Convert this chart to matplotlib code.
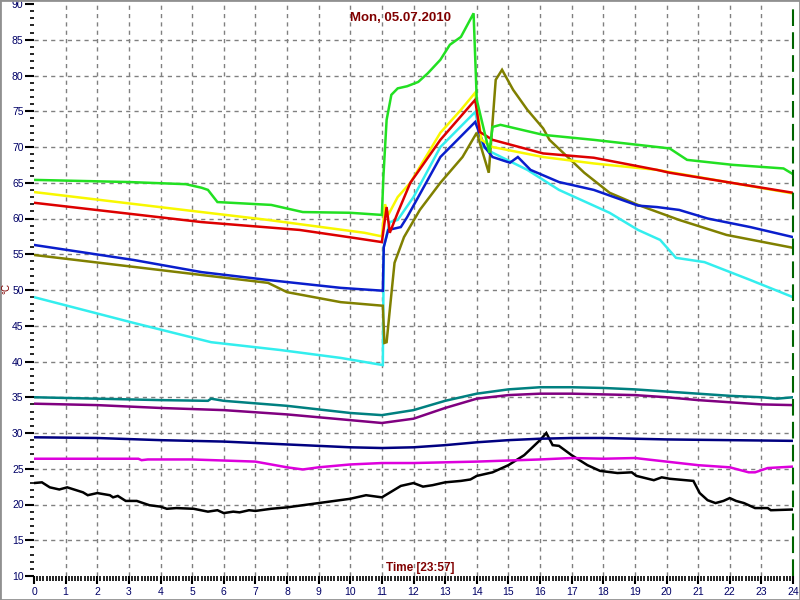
import matplotlib
matplotlib.use("Agg")
import matplotlib.pyplot as plt
from matplotlib.patches import Rectangle
from matplotlib.ticker import MultipleLocator

plt.rcParams["font.family"] = ["Liberation Sans", "DejaVu Sans"]

title = "Mon, 05.07.2010"
xlabel = "Time [23:57]"
ylabel = "°C"
cursor_time = 24

# (hours, values) per sensor
green_t = [0, 3, 4.8, 5.3, 5.5, 5.8, 7.5, 8.5, 10, 11.0, 11.05, 11.15, 11.3, 11.5, 11.8, 12.15, 12.45,
           12.85, 13.15, 13.5, 13.9, 14.0, 14.4, 14.5, 14.75, 16.1, 17.7, 19.7, 20.1, 20.65, 22.1, 23.7, 24]
green_v = [65.4, 65.1, 64.8, 64.3, 64.0, 62.3, 61.9, 60.9, 60.8, 60.5, 66.0, 73.8, 77.3, 78.2, 78.5, 79.1, 80.3,
           82.2, 84.3, 85.4, 88.7, 76.6, 69.2, 72.8, 73.1, 71.7, 71.0, 70.0, 69.8, 68.2, 67.5, 67.0, 66.2]

yellow_t = [0, 5.3, 7.4, 10.45, 11.0, 11.1, 11.2, 11.5, 11.9, 12.85, 13.5, 13.95, 14.15, 14.5, 16.1, 17.7,
            19.7, 24]
yellow_v = [63.7, 60.9, 59.8, 58.0, 57.5, 62.0, 60.5, 63.0, 65.0, 72.0, 75.2, 77.6, 71.0, 70.0, 68.6, 67.7,
            66.8, 63.5]

red_t = [0, 5.3, 8.4, 10.1, 11.0, 11.15, 11.25, 11.5, 11.9, 12.85, 13.95, 14.1, 14.5, 16.1, 17.7, 19.7,
         20.1, 24]
red_v = [62.2, 59.5, 58.4, 57.3, 56.7, 61.6, 58.0, 60.8, 65.0, 71.0, 76.6, 72.1, 71.0, 69.1, 68.5, 66.8,
         66.4, 63.6]

blue_t = [0, 3.15, 5.3, 7.4, 9.7, 11.03, 11.06, 11.2, 11.6, 11.8, 12.1, 12.85, 13.95, 14.25, 14.5, 15.05,
          15.3, 15.7, 16.6, 17.7, 19.1, 19.7, 20.4, 21.3, 22.65, 24]
blue_v = [56.3, 54.2, 52.5, 51.4, 50.3, 49.9, 56.0, 58.4, 58.8, 60.2, 62.6, 68.6, 73.5, 70.0, 68.6, 67.8,
          68.6, 66.8, 65.1, 64.0, 61.8, 61.6, 61.2, 60.0, 58.8, 57.4]

olive_t = [0, 5.3, 7.4, 8.0, 9.7, 11.03, 11.08, 11.15, 11.25, 11.4, 11.7, 12.2, 12.85, 13.55, 14.0, 14.38,
           14.6, 14.8, 15.15, 15.6, 16.1, 16.3, 17.4, 18.2, 19.1, 20.4, 21.9, 24]
olive_v = [54.9, 52.1, 51.0, 49.7, 48.3, 47.8, 42.6, 42.7, 47.2, 53.8, 57.4, 61.2, 65.0, 68.6, 72.0, 66.4,
           79.4, 80.8, 78.0, 75.2, 72.6, 71.0, 66.4, 63.6, 61.9, 59.8, 57.7, 55.9]

cyan_t = [0, 3.15, 5.6, 7.8, 9.7, 11.03, 11.06, 11.25, 11.5, 12.0, 12.85, 13.95, 14.2, 14.5, 15.6, 16.6,
          18.2, 19.1, 19.8, 20.3, 21.2, 22.65, 24]
cyan_v = [49.0, 45.4, 42.7, 41.6, 40.5, 39.5, 56.0, 59.5, 59.8, 63.0, 70.0, 74.9, 70.0, 69.2, 66.8, 64.0,
          60.8, 58.4, 57.0, 54.5, 53.9, 51.4, 49.0]

teal_t = [0, 2, 4, 5.5, 5.6, 6, 8, 10, 11, 12, 13, 14, 15, 16, 17, 18, 19, 20, 21, 22, 23, 23.5, 24]
teal_v = [35.0, 34.8, 34.6, 34.5, 34.8, 34.5, 33.8, 32.8, 32.5, 33.2, 34.5, 35.5, 36.1, 36.4, 36.4, 36.3,
          36.1, 35.8, 35.5, 35.2, 35.0, 34.8, 35.0]

purple_t = [0, 2, 4, 6, 8, 9.5, 11, 12, 13, 14, 15, 16, 17, 18, 19, 20, 21, 22, 23, 24]
purple_v = [34.1, 33.9, 33.5, 33.2, 32.6, 32.0, 31.4, 32.0, 33.5, 34.8, 35.3, 35.5, 35.5, 35.4, 35.3, 35.0,
            34.6, 34.3, 34.0, 33.9]

navy_t = [0, 2, 4, 6, 8, 10, 11, 12, 13, 14, 15, 16, 17, 18, 19, 20, 22, 24]
navy_v = [29.4, 29.3, 29.0, 28.8, 28.4, 28.0, 27.9, 28.0, 28.3, 28.7, 29.0, 29.2, 29.3, 29.3, 29.2, 29.1,
          29.0, 28.9]

magenta_t = [0, 3.3, 3.4, 3.6, 5, 7, 8, 8.5, 9, 10, 11, 12, 14, 16, 17, 18, 19, 20, 21, 22, 22.6, 22.8,
             23.2, 24]
magenta_v = [26.4, 26.4, 26.2, 26.3, 26.3, 26.0, 25.2, 24.9, 25.2, 25.6, 25.8, 25.8, 26.0, 26.3, 26.5, 26.4,
             26.5, 26.0, 25.5, 25.2, 24.5, 24.5, 25.1, 25.3]

black_t = [0, 0.25, 0.5, 0.8, 1.05, 1.55, 1.7, 2.0, 2.4, 2.5, 2.65, 2.9, 3.25, 3.65, 4.0, 4.2, 4.5, 5.05,
           5.5, 5.8, 6.0, 6.3, 6.5, 6.8, 7, 7.5, 8, 8.5, 9, 9.5, 10, 10.5, 11, 11.3, 11.6, 12, 12.3, 12.6,
           13, 13.5, 13.8, 14, 14.5, 15, 15.5, 16, 16.2, 16.4, 16.6, 17, 17.5, 17.9, 18.45, 18.9, 19.05,
           19.6, 19.85, 20.1, 20.85, 21.05, 21.3, 21.55, 21.8, 22.0, 22.2, 22.45, 22.8, 23.2, 23.3, 24]
black_v = [23.0, 23.1, 22.4, 22.1, 22.4, 21.7, 21.3, 21.6, 21.3, 21.0, 21.2, 20.5, 20.5, 19.9, 19.7, 19.4,
           19.5, 19.4, 19.0, 19.2, 18.8, 19.0, 18.9, 19.2, 19.1, 19.4, 19.6, 19.9, 20.2, 20.5, 20.8, 21.3,
           21.0, 21.8, 22.6, 23.0, 22.5, 22.7, 23.1, 23.3, 23.5, 24.0, 24.5, 25.5, 26.9, 29.0, 30.0, 28.3,
           28.2, 26.9, 25.5, 24.7, 24.4, 24.5, 24.0, 23.4, 23.8, 23.6, 23.3, 21.6, 20.6, 20.2, 20.5, 20.9,
           20.5, 20.2, 19.5, 19.5, 19.2, 19.3]

series = [
    (black_t, black_v, "#000000"),
    (magenta_t, magenta_v, "#dd00dd"),
    (navy_t, navy_v, "#000080"),
    (purple_t, purple_v, "#800080"),
    (teal_t, teal_v, "#008080"),
    (cyan_t, cyan_v, "#33eeee"),
    (olive_t, olive_v, "#808000"),
    (blue_t, blue_v, "#0a1ecc"),
    (yellow_t, yellow_v, "#f8f800"),
    (red_t, red_v, "#dd0000"),
    (green_t, green_v, "#22e022"),
]

fig = plt.figure(figsize=(8, 6), dpi=100)
ax = fig.add_axes([34 / 800, 24 / 600, 759 / 800, 572 / 600])
ax.set_xlim(0, 24)
ax.set_ylim(10, 90)

# dashed grid, interior only
for h in range(1, 24):
    ax.axvline(h, color="#808080", linewidth=1, linestyle=(0, (3, 3)), zorder=0)
for v in range(15, 90, 5):
    ax.axhline(v, color="#808080", linewidth=1, linestyle=(0, (3, 3)), zorder=0)

for t, v, c in series:
    ax.plot(t, v, color=c, linewidth=1.8, solid_joinstyle="miter")

ax.axvline(cursor_time, color="#006400", linewidth=1.5, linestyle=(0, (8, 3)), clip_on=False)

for s in ax.spines.values():
    s.set_visible(False)

ax.xaxis.set_major_locator(MultipleLocator(1))
ax.xaxis.set_minor_locator(MultipleLocator(0.1))
ax.yaxis.set_major_locator(MultipleLocator(5))
ax.yaxis.set_minor_locator(MultipleLocator(1))
# tick lengths are in points (1 pt = 1.39 px here)
ax.tick_params(axis="y", which="major", direction="out", length=6.5, width=1.5, color="black",
               labelsize=7.5, labelcolor="#000066", pad=1)
ax.tick_params(axis="y", which="minor", direction="out", length=3, width=1.2, color="black")
ax.tick_params(axis="x", which="major", direction="out", length=6, width=1.5, color="black",
               labelsize=7.5, labelcolor="#000066", pad=2)
ax.tick_params(axis="x", which="minor", direction="out", length=3.5, width=1.2, color="black")

fig.text(400 / 800, 1 - 18 / 600, title, ha="center", va="center",
         fontsize=9.5, fontweight="bold", color="#800000")
fig.text(420 / 800, 1 - 568 / 600, xlabel, ha="center", va="center",
         fontsize=8.5, fontweight="bold", color="#800000")
fig.text(6 / 800, 1 - 289 / 600, ylabel, rotation=90, ha="center", va="center",
         fontsize=7, color="#800000")

fig.patches.append(Rectangle((0, 0), 1, 1, transform=fig.transFigure, fill=False,
                             edgecolor="#909090", linewidth=2))

fig.savefig("out.png", dpi=100)
